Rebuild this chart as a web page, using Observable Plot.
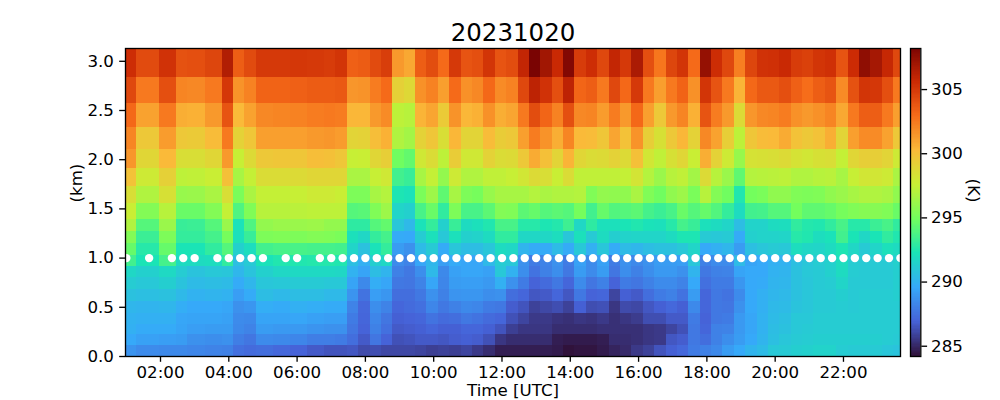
<!DOCTYPE html>
<html>
<head>
<meta charset="utf-8">
<script src="https://cdn.jsdelivr.net/npm/d3@7"></script>
<script src="https://cdn.jsdelivr.net/npm/@observablehq/plot@0.6"></script>
<style>
html,body{margin:0;padding:0;background:#fff;overflow:hidden}
#wrap{position:relative;width:1000px;height:400px;font-family:"DejaVu Sans",sans-serif}
#wrap svg{position:absolute;top:0;background:transparent;font-family:"DejaVu Sans",sans-serif}
</style>
</head>
<body>
<div id="wrap"></div>
<script>
const title = "20231020";
const xTitle = "Time [UTC]";
const yTitle = "(km)";
const barTitle = "(K)";
const xTickHours = [2,4,6,8,10,12,14,16,18,20,22];
const xTickLabels = ["02:00","04:00","06:00","08:00","10:00","12:00","14:00","16:00","18:00","20:00","22:00"];
const yTicks = [0,0.5,1,1.5,2,2.5,3];
const barTicks = [285,290,295,300,305];
const tempMin = 284.2, tempMax = 308.2;
const turboStops = ["#30123b","#4662d8","#36aaf9","#1ae4b6","#72fe5e","#c8ef34","#faba39","#f66b19","#cb2a04","#7a0403"];

// observation times, minutes after midnight
const obsMinutes = [60,100,140,160,180,220,240,260,280,300,340,360,400,420,440,460,480,500,520,540,560,580,600,620,640,660,680,700,720,740,760,780,800,820,840,860,880,900,920,940,960,980,1000,1020,1040,1060,1080,1100,1120,1140,1160,1180,1200,1220,1240,1260,1280,1300,1320,1340,1360,1380,1400,1420];
// retrieval layer edges, km
const layerEdges = [3.13,2.834,2.569,2.325,2.10,1.908,1.725,1.553,1.397,1.268,1.146,1.03,0.919,0.80,0.68,0.56,0.44,0.33,0.22,0.11,0];

// temperature (K) per layer, top to bottom, one value per observation
const t01 = [305.4,304.2,305.2,303.9,304.0,304.4,306.4,303.4,304.2,304.9,304.9,305.0,304.9,304.8,305.1,303.3,303.5,304.2,304.7,301.3,300.8,303.4,304.1,302.9,304.9,303.8,304.0,305.1,303.8,304.1,305.8,308.2,306.9,305.6,307.9,304.8,305.4,304.3,305.8,304.9,306.6,304.0,302.5,304.4,305.1,302.9,307.3,305.4,304.3,302.2,304.4,305.2,305.3,305.6,304.8,304.6,305.1,305.3,303.8,305.5,307.5,306.8,305.7,304.3];
const t02 = [304.3,302.4,304.0,302.0,301.9,302.4,305.0,301.5,302.1,303.2,303.2,303.3,303.5,303.5,303.6,301.4,301.5,302.3,302.9,299.1,298.7,301.6,302.1,301.1,302.9,301.6,301.9,303.0,301.8,302.1,304.3,306.0,305.2,304.0,306.0,303.1,303.4,302.4,304.3,303.0,304.9,302.4,301.1,302.4,303.2,301.6,305.1,303.8,302.4,300.4,303.0,303.6,303.6,304.0,303.3,302.8,303.4,303.8,301.8,303.9,305.1,305.0,304.0,302.4];
const t03 = [303.0,301.0,302.4,300.6,300.5,301.3,303.8,300.2,301.0,301.9,302.0,302.1,302.3,302.4,302.3,300.3,300.3,301.3,301.8,297.2,297.0,300.4,300.9,299.4,301.5,300.3,300.5,301.6,300.6,300.9,302.4,304.1,303.1,302.1,304.0,301.9,302.0,301.2,302.3,301.3,303.0,301.1,299.5,301.3,302.0,300.5,303.8,302.3,301.3,298.6,301.4,301.9,302.0,302.3,301.6,301.3,301.6,302.0,300.8,302.4,303.4,303.4,302.4,301.1];
const t04 = [302.0,299.5,301.2,299.5,299.4,300.1,302.4,299.0,299.6,301.1,301.1,301.1,301.3,301.4,301.2,298.9,299.0,300.0,300.5,296.8,296.4,299.0,299.6,298.4,300.3,298.9,298.9,300.1,299.3,299.5,301.1,302.3,301.5,300.6,302.0,300.2,300.1,299.6,300.9,299.8,301.5,299.2,298.3,299.5,300.3,299.0,301.9,301.0,299.2,297.2,299.6,300.1,300.2,300.7,299.8,299.5,299.8,300.6,298.9,301.1,301.8,301.8,301.0,299.5];
const t05 = [301.4,298.8,300.2,298.4,298.4,298.8,301.3,297.5,298.6,299.5,299.6,299.6,300.0,299.9,299.6,297.5,297.6,298.8,299.2,294.8,294.4,297.9,298.5,297.2,299.3,297.9,297.9,299.0,298.5,298.6,299.5,300.7,299.9,298.9,300.4,298.8,298.5,298.6,299.0,298.6,299.9,298.0,297.3,298.3,298.8,297.6,300.6,299.0,297.8,296.0,298.2,298.3,298.4,298.6,298.2,298.0,298.3,298.4,297.4,298.8,299.2,299.2,298.9,297.8];
const t06 = [299.8,297.8,299.1,297.2,297.3,297.6,299.9,296.5,297.4,298.5,298.5,298.6,298.8,298.8,298.8,296.6,296.6,297.5,297.9,293.4,293.1,296.5,297.4,295.9,297.8,296.8,296.8,297.3,297.3,297.5,298.0,298.6,298.4,297.6,298.5,297.3,297.3,297.3,297.3,297.4,298.1,296.9,296.1,297.0,297.3,296.4,298.6,297.0,296.1,294.3,296.9,297.0,297.1,297.2,296.8,296.8,297.0,297.1,296.5,297.5,298.0,298.0,297.8,296.6];
const t07 = [298.4,296.8,298.3,296.0,296.1,296.6,298.4,295.1,296.6,297.4,297.4,297.5,297.8,297.8,297.6,295.2,295.2,296.5,296.9,292.3,292.1,295.1,296.2,294.3,296.5,295.2,295.0,296.0,296.5,296.5,296.5,296.9,296.6,296.8,296.8,296.9,295.3,295.9,295.8,295.8,296.6,295.3,294.8,295.8,296.2,295.1,297.0,295.4,294.8,292.4,294.9,295.1,295.8,295.8,295.3,295.2,295.3,295.8,296.1,296.5,296.8,296.8,296.6,295.8];
const t08 = [297.6,295.4,297.0,294.6,294.6,295.4,297.4,293.8,295.3,297.0,297.0,297.1,297.2,297.2,297.2,294.0,294.1,295.3,296.2,291.5,291.3,293.6,294.6,292.9,295.2,293.6,293.6,294.2,295.4,295.3,294.2,294.5,294.0,294.2,294.0,295.0,293.4,294.5,293.9,294.0,294.2,293.5,293.2,293.6,294.6,294.0,294.5,293.9,293.0,291.8,293.4,293.5,294.0,294.0,294.9,294.3,294.3,294.5,295.0,295.3,295.5,295.5,295.3,294.6];
const t09 = [296.8,294.0,296.1,293.1,293.2,294.0,296.1,292.1,293.8,295.9,296.1,296.1,296.2,295.9,295.9,292.8,292.8,294.0,294.4,290.8,290.2,292.1,293.0,291.3,293.1,291.8,292.0,292.4,293.6,293.6,292.6,292.6,292.3,292.5,293.3,291.6,292.8,292.0,292.0,292.2,292.4,292.1,292.0,292.6,293.5,293.1,292.0,291.8,291.5,290.4,291.4,291.4,291.8,291.9,292.9,292.5,292.4,292.9,293.6,292.6,292.6,293.2,293.6,292.9];
const t10 = [295.4,293.2,295.2,293.0,293.0,293.5,295.0,292.0,293.1,295.2,295.3,295.2,295.4,295.3,295.1,292.0,291.6,293.0,293.5,289.6,289.5,291.1,292.0,290.9,292.0,291.3,291.4,291.8,292.9,292.9,291.6,291.6,291.6,291.9,290.8,292.0,291.0,291.8,291.2,291.4,291.5,291.5,291.5,291.8,292.3,292.3,291.0,290.9,291.0,289.6,291.3,291.4,291.4,291.5,292.6,292.4,291.9,292.1,293.4,292.2,291.6,292.2,292.9,292.4];
const t11 = [294.5,292.6,294.5,292.2,292.2,292.9,294.0,291.3,291.9,293.4,293.6,293.6,293.5,293.5,293.4,291.5,290.6,292.1,293.0,289.0,288.6,290.3,291.0,289.6,290.8,290.4,290.4,290.8,291.8,291.6,290.0,289.6,289.6,290.3,289.6,290.9,289.8,290.8,289.6,290.3,290.1,290.4,290.6,290.6,290.9,291.5,289.5,289.8,290.1,289.0,290.5,290.8,291.0,290.9,291.9,291.6,291.5,291.8,292.3,291.6,291.0,291.5,292.0,291.8];
const t12 = [293.4,292.2,293.5,291.8,291.8,291.9,292.9,290.5,291.0,292.1,292.4,292.4,292.5,292.5,292.4,290.5,289.8,291.2,291.6,288.4,288.1,289.4,290.1,289.1,289.6,289.4,289.4,290.2,291.1,290.9,288.6,287.8,288.1,288.6,287.8,289.2,288.4,289.2,287.8,288.6,288.3,288.6,289.0,289.0,289.1,290.8,288.0,288.4,288.4,290.3,289.3,289.5,289.8,289.9,290.5,290.8,291.1,291.3,291.9,291.1,291.0,291.0,291.0,291.3];
const t13 = [291.6,291.3,291.7,291.1,290.7,290.9,290.8,290.1,290.7,291.3,291.6,291.7,291.7,291.7,291.6,289.9,289.3,290.4,290.0,288.0,287.7,288.5,290.2,288.3,289.2,289.4,289.4,289.2,290.9,289.9,288.5,287.5,288.0,288.5,287.7,289.0,288.4,289.0,287.6,288.5,288.0,288.5,288.9,288.9,288.6,290.0,287.7,288.0,288.1,289.3,289.5,289.5,289.9,290.0,290.6,290.9,291.0,291.3,291.8,291.1,291.0,291.0,291.0,291.2];
const t14 = [291.1,290.9,291.2,290.7,290.3,290.4,290.3,289.6,290.1,290.8,290.9,291.0,291.0,290.9,290.9,289.3,288.3,289.7,289.4,287.7,287.6,288.1,289.4,288.2,289.0,289.1,289.1,288.9,289.8,288.6,287.8,286.9,287.2,287.7,287.0,288.4,287.6,288.0,286.9,287.8,287.6,288.0,288.4,288.4,288.1,289.5,287.4,287.8,287.8,288.8,289.5,289.6,290.0,290.1,290.6,290.8,291.0,291.1,291.5,291.0,291.0,291.0,291.0,291.2];
const t15 = [290.6,290.5,290.6,290.2,289.9,290.0,289.9,289.1,289.6,290.4,290.2,290.4,290.4,290.2,290.2,288.7,287.5,289.1,288.8,287.3,287.3,287.7,288.6,288.0,288.7,288.8,288.8,288.5,288.6,287.3,287.0,286.5,286.6,287.0,286.5,287.7,286.9,287.0,285.9,286.8,286.6,287.3,287.8,288.0,287.5,289.0,287.0,287.7,287.5,288.4,289.5,289.8,290.1,290.2,290.6,290.8,291.0,291.0,291.2,291.0,291.1,291.1,291.1,291.2];
const t16 = [290.1,290.0,290.1,289.7,289.5,289.5,289.4,288.6,288.8,289.7,289.6,289.8,289.7,289.6,289.6,288.1,287.1,288.5,288.1,287.0,287.2,287.4,288.2,287.7,288.0,288.3,288.2,287.8,287.7,286.7,286.4,285.8,286.0,286.2,285.8,286.8,286.2,286.3,285.4,286.1,286.0,286.5,286.8,287.1,286.8,288.3,287.0,287.7,287.6,288.6,289.5,289.8,290.2,290.3,290.7,290.8,291.0,291.0,291.1,291.0,291.1,291.1,291.1,291.1];
const t17 = [289.9,289.8,289.8,289.4,289.3,289.3,289.2,288.4,288.3,289.3,289.3,289.4,289.2,289.1,289.1,287.8,287.0,288.2,287.6,286.8,286.9,287.0,287.5,287.2,287.3,287.7,287.5,287.2,287.0,286.3,285.9,285.5,285.5,285.3,285.2,285.4,285.3,285.5,285.2,285.4,285.6,286.2,286.2,286.6,286.6,287.8,286.9,287.7,287.8,288.9,289.4,289.9,290.3,290.5,290.9,290.9,291.1,291.1,291.1,291.1,291.1,291.1,291.1,291.1];
const t18 = [289.8,289.6,289.6,289.3,289.1,289.0,289.0,288.3,288.1,289.0,288.9,288.9,288.7,288.6,288.6,287.6,286.9,288.0,287.4,286.6,286.7,286.8,287.0,286.8,286.8,287.0,287.0,286.8,286.4,285.7,285.4,285.4,285.4,285.1,285.1,285.1,285.1,285.2,285.2,285.2,285.2,285.4,285.5,285.9,286.3,287.7,287.0,288.0,288.1,288.9,289.4,289.9,290.4,290.6,290.9,291.0,291.1,291.1,291.1,291.1,291.1,291.1,291.1,291.1];
const t19 = [289.5,289.2,289.1,289.0,288.6,288.5,288.6,287.9,287.6,288.4,288.3,288.2,287.9,287.9,287.8,287.3,286.6,287.6,286.9,286.3,286.4,286.6,286.6,286.5,286.7,286.8,286.7,286.3,285.4,285.1,285.1,285.1,285.1,284.6,284.5,284.5,284.5,284.6,285.1,285.1,285.2,285.4,285.5,286.5,286.7,287.7,287.3,288.0,288.5,289.0,289.5,290.0,290.5,290.8,291.0,291.1,291.2,291.2,291.2,291.2,291.2,291.2,291.1,291.0];
const t20 = [288.7,288.4,288.3,288.3,288.2,288.1,288.0,287.4,287.2,287.3,287.1,286.9,286.6,286.4,286.4,286.5,286.1,286.2,286.0,286.0,286.0,285.9,285.7,285.8,285.7,285.9,285.5,285.1,284.6,284.6,284.6,284.6,284.6,284.5,284.2,284.3,284.3,284.5,284.8,285.0,285.5,285.8,286.4,286.8,287.1,287.8,288.0,288.3,289.0,289.5,290.0,290.3,290.9,291.0,291.2,291.3,291.4,291.4,291.1,291.0,291.0,291.0,290.8,290.7];
const layers = [t01,t02,t03,t04,t05,t06,t07,t08,t09,t10,t11,t12,t13,t14,t15,t16,t17,t18,t19,t20];

const font = '"DejaVu Sans", sans-serif';
const labelSize = 16.67;
const lineWidth = 1.33;
const hours = obsMinutes.map(m => m / 60);
const xMin = 0.975, xMax = 23.67;
// cell edges sit midway between observations, as the picture shows them
const cellEdge = i => i < 0 ? xMin : i >= hours.length - 1 ? xMax : (hours[i] + hours[i + 1]) / 2 - 0.03;
const cells = layers.flatMap((row, r) => row.map((temp, c) => ({
  x1: cellEdge(c - 1), x2: cellEdge(c), y1: layerEdges[r + 1], y2: layerEdges[r], temp
})));
const colorScale = {
  type: "linear",
  domain: turboStops.map((_, k) => tempMin + (tempMax - tempMin) * k / (turboStops.length - 1)),
  range: turboStops,
  clamp: true
};

const main = Plot.plot({
  width: 1000, height: 400,
  marginLeft: 125, marginRight: 100, marginTop: 48, marginBottom: 44,
  style: {fontFamily: font, fontSize: labelSize + "px", color: "#000", background: "transparent"},
  x: {domain: [xMin, xMax], axis: null},
  y: {domain: [0, 3.13], axis: null},
  color: colorScale,
  marks: [
    Plot.rect(cells, {x1: "x1", x2: "x2", y1: "y1", y2: "y2", fill: "temp", shapeRendering: "crispEdges"}),
    Plot.dot(hours, {x: d => d, y: () => 1, r: 4.2, fill: "#fff", stroke: "none", clip: true}),
    Plot.frame({stroke: "#000", strokeWidth: lineWidth}),
    Plot.axisX({ticks: xTickHours, tickFormat: d => xTickLabels[xTickHours.indexOf(d)], tickSize: 5.8, tickPadding: 4, label: null, fontSize: labelSize, stroke: "#000", strokeWidth: lineWidth}),
    Plot.axisY({ticks: yTicks, tickFormat: d3.format(".1f"), tickSize: 5.8, tickPadding: 5.8, label: null, fontSize: labelSize, stroke: "#000", strokeWidth: lineWidth}),
    Plot.text([title], {frameAnchor: "top", lineAnchor: "bottom", dy: -8, fontSize: 24.5, fill: "#000", text: d => d}),
    Plot.text([yTitle], {frameAnchor: "left", rotate: -90, dx: -49, fontSize: labelSize, fill: "#000", text: d => d}),
    Plot.text([xTitle], {frameAnchor: "bottom", lineAnchor: "middle", dy: 34.5, fontSize: labelSize, fill: "#000", text: d => d})
  ]
});
main.style.left = "0px";

const barSteps = d3.range(tempMin, tempMax, 0.1);
const bar = Plot.plot({
  width: 100, height: 400,
  marginLeft: 10, marginRight: 79.7, marginTop: 48, marginBottom: 44,
  style: {fontFamily: font, fontSize: labelSize + "px", color: "#000", background: "transparent"},
  x: {domain: [0, 1], axis: null},
  y: {domain: [tempMin, tempMax], axis: null},
  color: colorScale,
  marks: [
    Plot.rect(barSteps, {x1: () => 0, x2: () => 1, y1: d => d, y2: d => d + 0.1, fill: d => d, shapeRendering: "crispEdges"}),
    Plot.frame({stroke: "#000", strokeWidth: lineWidth}),
    Plot.axisY({anchor: "right", ticks: barTicks, tickSize: 5.8, tickPadding: 4.5, label: null, fontSize: labelSize, stroke: "#000", strokeWidth: lineWidth}),
    Plot.text([barTitle], {frameAnchor: "right", rotate: 90, dx: 53, fontSize: labelSize, fill: "#000", text: d => d})
  ]
});
bar.style.left = "900px";

document.getElementById("wrap").append(main, bar);
</script>
</body>
</html>
